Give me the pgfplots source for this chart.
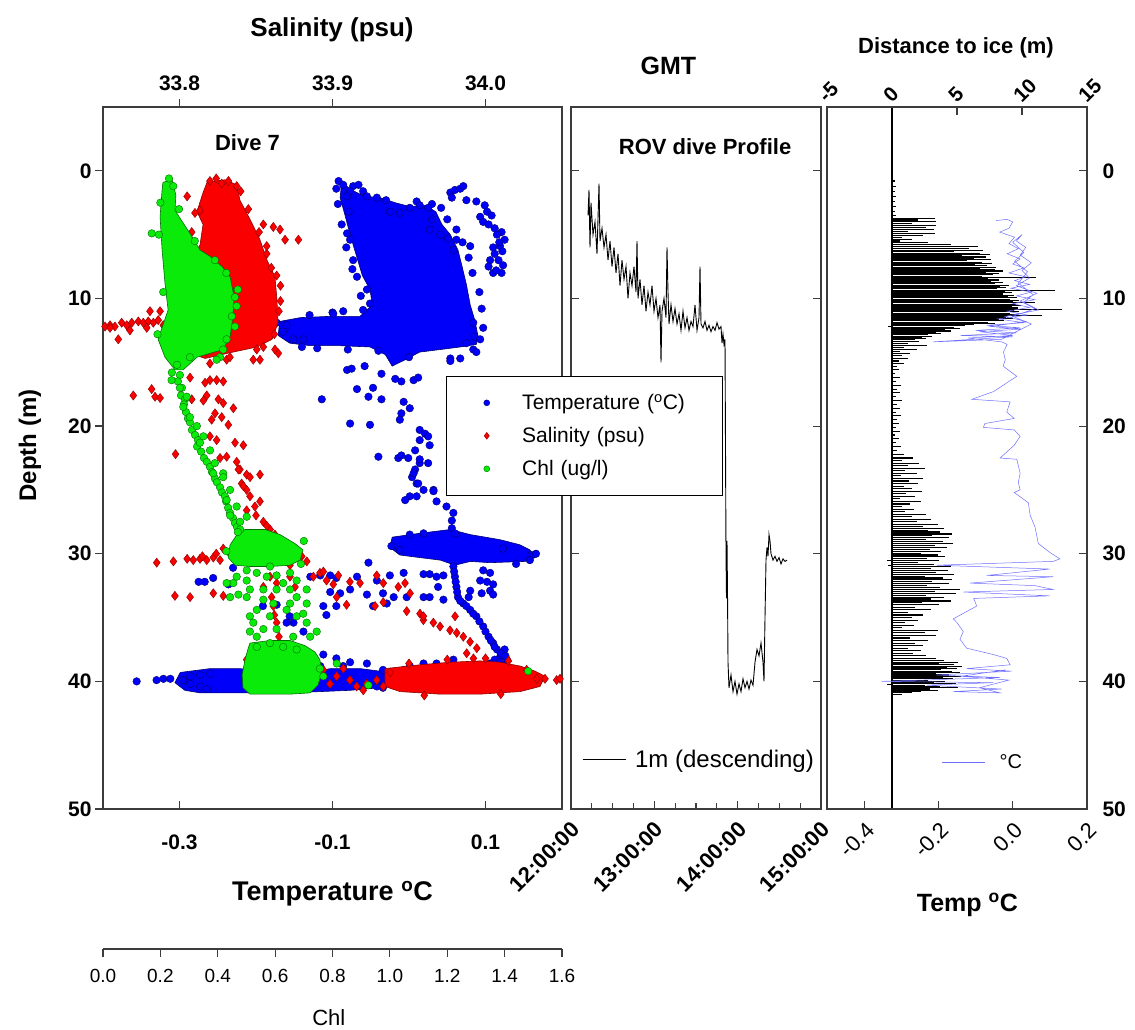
\documentclass[border=0pt]{standalone}
\usepackage{pgfplots}
\pgfplotsset{compat=1.18}
\usepackage{fontspec}
\setmainfont{Liberation Sans}
\definecolor{tblue}{RGB}{0,0,250}
\definecolor{tblueE}{RGB}{0,0,110}
\definecolor{sred}{RGB}{250,0,0}
\definecolor{sredE}{RGB}{140,0,0}
\definecolor{cgreen}{RGB}{10,235,10}
\definecolor{cgreenE}{RGB}{0,110,0}
\definecolor{lblue}{RGB}{110,110,255}
\definecolor{axgray}{RGB}{60,60,60}
\newcommand{\fs}[1]{\fontsize{#1}{#1}\selectfont}
\pgfplotsset{
  panel/.style={scale only axis, anchor=south west, height=702pt,
    ymin=-5, ymax=50, y dir=reverse, major tick length=8pt, minor tick length=6pt,
    clip mode=individual,
    axis line style={line width=1.2pt, axgray},
    every tick/.append style={line width=1.2pt, axgray}},
  bluept/.style={only marks, mark=*, mark size=3.8pt, mark options={fill=tblue, draw=tblueE, line width=0.4pt}},
  redpt/.style={only marks, mark=diamond*, mark size=4.6pt, mark options={fill=sred, draw=sredE, line width=0.4pt}},
  greenpt/.style={only marks, mark=*, mark size=3.8pt, mark options={fill=cgreen, draw=cgreenE, line width=0.4pt}},
}
\begin{document}
\begin{tikzpicture}[x=1pt,y=1pt]
\useasboundingbox (0,0) rectangle (1135,1029);

% ---------------- LEFT PANEL: temperature (bottom axis, box) -------------
\begin{axis}[panel, at={(103pt,220pt)}, width=459pt,
  xmin=-0.4, xmax=0.2, xtick={-0.3,-0.1,0.1}, xticklabels={-0.3,-0.1,0.1},
  xtick pos=left, ytick=\empty, tick align=inside,
  xticklabel style={font=\bfseries\fs{21}, yshift=-22pt},
  xlabel={Temperature \textsuperscript{o}C},
  xlabel style={font=\bfseries\fs{27}, at={(axis description cs:0.5,-0.12)}, anchor=center}]
\addplot[fill=tblue, draw=tblueE, line width=0.6pt] coordinates {
(-0.088,0.9) (-0.075,1.5) (-0.058,2.0) (-0.038,2.1) (-0.018,2.5) (0.001,2.8) (0.021,2.7) (0.035,3.2) (0.043,4.2) (0.054,5.0) (0.064,6.2) (0.069,7.4) (0.075,8.9) (0.080,10.5) (0.086,11.7) (0.090,12.9) (0.088,13.6) (0.067,13.8) (0.041,14.0) (0.014,14.2) (-0.005,14.8) (-0.022,15.3) (-0.031,14.4) (-0.051,13.8) (-0.090,13.7) (-0.129,13.7) (-0.156,13.5) (-0.171,12.9) (-0.169,11.8) (-0.142,11.5) (-0.103,11.4) (-0.064,11.4) (-0.048,10.5) (-0.051,9.3) (-0.061,8.2) (-0.069,6.6) (-0.077,5.0) (-0.084,3.4) (-0.090,2.1) (-0.088,0.9)};
\addplot[fill=tblue, draw=tblueE, line width=0.6pt] coordinates {
(-0.022,28.7) (0.014,28.4) (0.054,28.1) (0.080,28.5) (0.119,28.9) (0.145,29.3) (0.158,29.7) (0.165,30.3) (0.152,30.6) (0.106,30.7) (0.080,30.6) (0.060,30.9) (0.041,30.5) (0.014,30.3) (-0.012,30.1) (-0.025,29.5) (-0.022,28.7)};
\addplot[fill=tblue, draw=tblueE, line width=0.6pt] coordinates {
(-0.299,39.3) (-0.260,39.0) (-0.221,39.0) (-0.195,39.2) (-0.142,39.5) (-0.103,39.0) (-0.064,39.0) (-0.025,39.3) (-0.018,39.9) (-0.038,40.5) (-0.077,40.7) (-0.116,40.8) (-0.156,40.9) (-0.195,40.9) (-0.234,40.9) (-0.273,40.9) (-0.293,40.7) (-0.306,40.1) (-0.299,39.3)};
\addplot[bluept] coordinates {
(0.054,1.7) (0.060,1.5) (0.067,1.4) (0.071,1.2) (0.056,2.1) (0.075,2.3) (0.088,2.4) (0.099,2.7) (0.102,3.2) (0.093,3.6) (0.097,4.0) (0.104,4.2) (0.112,4.5) (0.121,4.8) (0.125,5.4) (0.119,5.9) (0.112,6.5) (0.106,7.0) (0.104,7.5) (0.110,8.0) (0.121,8.0) (0.123,7.4) (0.117,7.0) (0.062,5.4) (0.080,5.9) (0.058,6.2)
(0.108,3.5) (0.115,5.0) (0.110,6.0) (0.122,6.3) (0.114,7.8) (0.118,5.6)
(0.084,11.9) (0.086,13.0) (0.084,14.0) (0.088,14.2) (0.075,13.5)
(0.092,9.5) (0.095,10.8) (0.097,12.3) (0.093,13.2) (0.083,8.0) (0.078,6.8) (0.070,5.6) (0.062,4.6) (0.050,3.8) (0.042,2.9)
(-0.120,13.9) (-0.080,14.0) (-0.040,14.1) (0.000,14.6) (-0.100,11.1) (-0.130,11.3) (-0.060,10.9) (-0.140,13.8)
(-0.095,1.4) (-0.060,1.6) (-0.030,2.3) (0.010,2.4) (0.030,2.6) (-0.093,2.6) (-0.088,4.2) (-0.082,6.0) (-0.074,7.7) (-0.063,9.8)
(-0.173,11.9) (-0.160,12.1) (-0.151,13.2) (-0.138,13.2) (-0.180,12.4) (-0.165,12.6)
(0.054,14.7) (0.067,14.7) (0.054,14.9)
(-0.092,0.8) (-0.086,1.1) (-0.073,1.2) (-0.066,1.1) (-0.077,1.6) (-0.081,2.0)
(-0.079,3.2) (-0.081,4.9) (-0.077,5.4) (-0.073,7.0) (-0.068,8.3) (-0.055,9.3) (-0.051,10.4) (-0.099,11.2) (-0.086,11.0)
(-0.055,2.0) (-0.042,2.1) (-0.025,3.2) (-0.012,3.3) (0.001,2.9) (0.014,2.7) (0.025,2.9) (0.030,3.8) (0.027,4.6) (0.041,5.0) (0.051,5.3)
(-0.081,15.6) (-0.075,15.5) (-0.058,15.3) (-0.036,15.9) (-0.068,17.1) (-0.047,17.0) (-0.053,17.7) (-0.114,17.9) (-0.036,17.9) (-0.018,16.3) (-0.010,16.5) (0.006,16.4) (0.012,16.2) (-0.007,18.1) (0.001,18.6) (-0.010,19.0) (-0.012,19.5) (-0.077,19.8) (-0.051,19.9) (-0.040,22.4) (-0.014,22.5) (-0.001,22.5) (0.014,20.3) (0.021,20.6) (0.025,20.8) (0.014,21.1) (0.027,21.5) (0.008,21.9) (0.014,22.9) (0.008,23.4) (0.004,24.0) (0.010,24.5) (0.019,25.0) (0.032,25.0) (0.010,25.5)
(-0.010,22.3) (0.014,22.6) (0.025,22.9) (0.006,23.7) (0.012,24.5) (0.001,25.5) (-0.005,25.8) (0.032,25.1) (0.036,25.9) (0.049,26.3) (0.058,26.8) (0.056,27.4) (0.056,28.0) (0.060,28.4)
(-0.023,29.4) (-0.012,29.7) (0.001,28.5) (0.019,28.4) (0.123,29.6) (0.160,30.1) (0.158,30.5) (0.166,30.0) (0.140,30.8)
(0.058,31.0) (0.060,31.8) (0.062,32.6) (0.064,33.4) (0.071,33.9) (0.080,34.4) (0.088,34.9) (0.097,35.7) (0.104,36.5) (0.110,37.0) (0.115,37.5) (0.119,38.1) (0.125,37.5) (0.128,38.3) (0.112,38.3) (0.106,38.6) (0.123,38.7)
(0.059,31.4) (0.061,32.2) (0.063,33.0) (0.067,33.7) (0.075,34.1) (0.084,34.7) (0.092,35.3) (0.100,36.1) (0.107,36.8) (0.112,37.3) (0.120,37.8) (0.126,38.0) (0.118,38.5)
(0.093,32.1) (0.102,32.2) (0.110,32.4) (0.106,32.9) (0.095,33.1) (0.110,33.2) (0.080,32.9) (0.078,33.4) (0.097,31.3) (0.106,31.5)
(-0.275,32.2) (-0.267,32.2) (-0.256,31.9) (-0.230,31.1) (-0.236,32.4) (-0.129,31.8) (-0.116,31.7) (-0.103,31.7) (-0.095,31.9) (-0.068,31.8) (-0.053,30.7) (-0.042,32.1) (-0.025,31.7) (-0.007,31.5) (0.019,31.6) (0.027,31.6) (0.036,31.8) (0.045,31.7) (-0.103,33.0) (-0.090,33.1) (-0.077,32.8) (-0.055,33.2) (-0.034,33.1) (-0.020,33.4) (-0.003,33.4) (0.019,33.4) (0.027,33.4) (0.038,32.6) (0.045,33.6) (-0.112,34.1) (-0.095,34.1) (-0.047,34.1) (-0.029,33.9) (-0.108,34.8) (-0.156,34.9) (-0.151,35.4) (-0.138,36.1) (-0.160,35.4) (-0.173,34.0) (-0.191,34.1) (-0.156,38.1) (-0.112,37.9) (-0.095,38.2) (-0.077,38.5) (-0.055,38.6) (0.019,38.6) (0.036,38.6) (0.058,38.3)
(-0.356,40.0) (-0.330,39.9) (-0.321,39.8) (-0.312,39.8) (-0.295,39.9) (-0.286,40.2) (-0.273,40.4) (-0.264,40.6) (-0.286,39.6) (-0.273,39.5) (-0.260,39.4) (-0.116,38.8) (-0.086,38.8) (-0.034,39.1) (-0.042,40.4) (-0.034,40.5) (-0.007,39.1) (0.001,38.8)};
\node at (rel axis cs:0.308,0.949) {\bfseries\fs{22} Dive 7};
\end{axis}

% ---------------- LEFT PANEL: salinity (top axis) -------------
\begin{axis}[panel, at={(103pt,220pt)}, width=459pt,
  xmin=33.75, xmax=34.05, hide y axis, x axis line style={draw=none},
  xtick pos=right, xticklabel pos=right,
  xtick={33.8,33.9,34.0}, xticklabels={33.8,33.9,34.0}, tick align=outside,
  xticklabel style={font=\bfseries\fs{21}, yshift=5pt},
  xlabel={Salinity (psu)},
  xlabel style={font=\bfseries\fs{26}, at={(axis description cs:0.499,1.11)}, anchor=center}]
\addplot[fill=sred, draw=sredE, line width=0.6pt] coordinates {
(33.8180,0.9) (33.8297,0.7) (33.8376,1.1) (33.8395,2.3) (33.8461,3.8) (33.8526,5.4) (33.8572,7.0) (33.8624,8.3) (33.8637,10.1) (33.8644,11.9) (33.8605,13.2) (33.8507,13.8) (33.8350,14.2) (33.8167,14.7) (33.8003,14.0) (33.7925,12.9) (33.7938,10.1) (33.8036,7.8) (33.8134,5.8) (33.8154,4.2) (33.8114,3.2) (33.8154,1.7) (33.8180,0.9)};
\addplot[fill=sred, draw=sredE, line width=0.6pt] coordinates {
(33.9343,39.0) (33.9572,38.7) (33.9768,38.5) (33.9964,38.4) (34.0095,38.5) (34.0226,38.8) (34.0324,39.2) (34.0389,39.6) (34.0356,40.4) (34.0226,40.8) (33.9964,41.0) (33.9703,41.0) (33.9441,40.8) (33.9343,40.4) (33.9343,39.0)};
\addplot[redpt] coordinates {
(33.7513,12.2) (33.7546,12.1) (33.7578,12.2) (33.7622,11.9) (33.7655,12.1) (33.7688,11.9) (33.7731,11.8) (33.7763,11.9) (33.7796,11.8) (33.7829,11.9) (33.7861,11.7) (33.7894,12.1) (33.7600,13.2) (33.7807,11.0) (33.7873,11.0) (33.7546,12.3) (33.7676,12.5) (33.7786,12.3)
(33.866,9.0) (33.865,11.0) (33.862,12.8) (33.857,6.5) (33.852,4.8) (33.845,3.0) (33.840,1.6) (33.805,2.0) (33.808,4.8) (33.866,10.2) (33.860,7.6) (33.824,0.6) (33.832,0.8)
(33.8374,1.2) (33.8548,4.2) (33.8613,4.4) (33.8657,4.6) (33.8690,5.4) (33.8777,5.4) (33.8570,5.9) (33.8635,8.2) (33.8276,1.0) (33.8199,0.8) (33.8134,3.1) (33.8101,3.3)
(33.8505,14.0) (33.8548,13.8) (33.8624,14.0) (33.8646,14.3) (33.8482,14.8) (33.8526,14.8) (33.8178,14.2) (33.8199,15.1) (33.8308,14.8) (33.8330,14.6)
(33.7698,17.6) (33.7818,17.1) (33.7840,17.7) (33.7873,17.8) (33.8069,16.2) (33.8167,16.6) (33.8199,16.4) (33.8243,16.4) (33.8286,16.5) (33.8178,17.6) (33.8080,17.9) (33.8156,18.0) (33.8254,17.9) (33.8286,18.2) (33.8232,19.0) (33.8276,19.3) (33.8210,19.5) (33.8352,18.6) (33.8319,19.9) (33.8199,20.8) (33.8243,21.1) (33.8363,21.3) (33.8417,21.5) (33.7974,22.2) (33.8265,22.5) (33.8308,22.4) (33.8374,22.8) (33.8395,23.4) (33.8439,23.8) (33.8526,23.8) (33.8406,24.5) (33.8439,25.0) (33.8461,25.5) (33.8385,23.4) (33.8461,24.0) (33.8417,24.7) (33.8493,26.3) (33.8526,25.9) (33.8548,27.5) (33.8592,28.1) (33.8624,28.5) (33.8439,26.6) (33.8500,27.0) (33.8570,27.8)
(33.7851,30.7) (33.7960,30.6) (33.8090,30.5) (33.8134,30.4) (33.8178,30.5) (33.8221,30.3) (33.8265,30.5) (33.8286,29.6) (33.8330,30.0) (33.8635,29.2) (33.8701,29.3) (33.8766,29.7) (33.8799,30.2) (33.8832,30.6) (33.8722,30.9) (33.8150,30.2) (33.8050,30.4) (33.8240,30.0) (33.8600,29.8) (33.8680,30.0)
(33.7970,33.3) (33.8069,33.4) (33.8221,33.1) (33.8286,33.3)
(33.8592,31.8) (33.8635,32.3) (33.8602,33.4) (33.8613,34.1) (33.8635,35.4) (33.8657,37.3) (33.8722,31.8) (33.8755,32.6) (33.8548,32.6) (33.8439,38.3) (33.8482,38.4) (33.8548,38.3) (33.8620,34.8) (33.8650,36.5)
(33.8875,31.8) (33.8918,31.5) (33.8940,31.4) (33.9038,31.7) (33.9005,32.4) (33.9114,32.2) (33.9180,32.3) (33.9289,31.7) (33.9332,32.3) (33.9430,32.6) (33.9474,32.3) (33.9507,33.1) (33.9332,33.8) (33.9278,34.1) (33.9485,34.5) (33.9572,34.7) (33.9594,35.2) (33.9659,35.4) (33.9703,35.7) (33.9768,36.0) (33.9812,36.2) (33.9855,36.5) (33.9899,36.9) (33.9943,37.4) (33.9877,37.8) (33.9921,38.2) (33.9801,34.9) (33.9594,34.9) (33.9027,33.4) (33.9092,34.0) (33.8961,32.1)
(34.0335,39.8) (34.0389,39.8) (34.0465,39.9) (34.0487,39.8) (34.0269,39.1) (33.950,38.6) (33.975,38.3) (34.000,38.2) (34.015,38.4) (33.960,41.1) (34.010,41.0)
(33.8832,40.2) (33.8897,39.9) (33.8984,40.2) (33.9027,39.6) (33.9114,39.9) (33.9158,40.4) (33.9223,40.2) (33.9289,39.9) (33.9332,40.4) (33.9201,40.7) (33.8940,39.1) (33.9071,39.0) (33.9376,39.3) (33.8788,40.2) (33.8853,39.9)};
\end{axis}

% ---------------- LEFT PANEL: chl data + depth ticks -------------
\begin{axis}[panel, at={(103pt,220pt)}, width=459pt,
  xmin=0, xmax=1.6, hide x axis, y axis line style={draw=none},
  ytick pos=left, ytick={0,10,20,30,40,50}, yticklabels={0,10,20,30,40,50},
  tick align=outside, yticklabel style={font=\bfseries\fs{21}},
  ylabel={Depth (m)},
  ylabel style={font=\bfseries\fs{24}, at={(axis description cs:-0.159,0.518)}, anchor=center}]
\addplot[fill=cgreen, draw=cgreenE, line width=0.6pt] coordinates {
(0.209,0.9) (0.241,0.7) (0.254,1.9) (0.251,3.1) (0.303,4.9) (0.338,6.2) (0.373,6.7) (0.415,7.5) (0.443,8.3) (0.457,9.9) (0.453,11.4) (0.443,13.0) (0.418,14.0) (0.328,14.6) (0.279,15.6) (0.251,15.6) (0.216,14.6) (0.192,13.2) (0.227,10.9) (0.216,8.8) (0.206,6.2) (0.199,3.6) (0.206,1.5) (0.209,0.9)};
\addplot[fill=cgreen, draw=cgreenE, line width=0.6pt] coordinates {
(0.495,28.1) (0.565,28.1) (0.617,28.5) (0.669,29.2) (0.697,29.7) (0.687,30.5) (0.652,30.9) (0.582,31.0) (0.512,31.0) (0.460,30.9) (0.436,30.3) (0.443,29.3) (0.467,28.5) (0.495,28.1)};
\addplot[fill=cgreen, draw=cgreenE, line width=0.6pt] coordinates {
(0.512,37.0) (0.582,36.8) (0.652,36.8) (0.704,37.2) (0.739,37.7) (0.756,38.3) (0.763,39.3) (0.749,40.3) (0.722,40.9) (0.652,41.0) (0.582,41.0) (0.512,41.0) (0.488,40.5) (0.485,39.5) (0.495,38.3) (0.505,37.5) (0.512,37.0)};
\addplot[greenpt] coordinates {
(0.460,9.9) (0.466,10.6) (0.449,11.4) (0.431,13.2) (0.419,14.0) (0.408,14.6) (0.396,14.8) (0.303,14.6) (0.170,4.9)
(0.470,9.3) (0.460,12.2) (0.240,15.8) (0.190,12.8) (0.210,9.5) (0.195,5.0) (0.200,2.5) (0.245,1.2) (0.265,3.0) (0.320,5.5) (0.390,7.0) (0.430,8.0) (0.230,0.6)
(0.258,15.2) (0.268,16.0) (0.261,16.5) (0.275,17.0) (0.272,17.6) (0.286,17.9) (0.282,18.3) (0.289,18.9) (0.296,19.4) (0.303,19.7) (0.310,20.3) (0.321,20.7) (0.331,21.1) (0.328,21.6) (0.342,22.0) (0.352,22.5) (0.362,22.8) (0.373,23.2) (0.380,23.6) (0.390,24.1) (0.397,24.4) (0.408,24.8) (0.415,25.2) (0.425,25.5) (0.429,25.9) (0.436,26.4) (0.443,26.8) (0.453,27.2) (0.460,27.6) (0.467,27.9) (0.478,28.1)
(0.239,16.4) (0.268,17.0) (0.292,17.7) (0.280,18.5) (0.303,19.3) (0.327,20.0) (0.350,20.8) (0.338,21.3) (0.373,21.9) (0.390,22.9) (0.419,23.7) (0.443,25.0) (0.384,23.7) (0.419,24.0) (0.431,25.8) (0.466,26.3) (0.443,27.0) (0.478,27.5) (0.501,27.1)
(0.700,29.0) (0.690,30.8) (0.430,29.8) (0.470,28.3)
(0.466,31.8) (0.454,32.3) (0.501,32.1) (0.536,31.5) (0.571,31.8) (0.605,31.7) (0.652,31.5) (0.675,32.1) (0.710,32.8) (0.652,32.8) (0.605,32.8) (0.559,32.8) (0.512,32.8) (0.472,33.2) (0.501,33.4) (0.675,33.4) (0.710,33.9) (0.652,33.9) (0.594,33.9) (0.536,34.4) (0.512,34.9) (0.524,35.4) (0.512,36.1) (0.536,36.5) (0.536,37.3) (0.582,34.9) (0.605,35.9) (0.675,34.9) (0.710,35.4) (0.745,36.1) (0.722,36.5) (0.663,36.5) (0.640,34.4) (0.698,34.7) (0.559,35.9) (0.582,37.0) (0.628,37.3) (0.675,37.5) (0.431,32.3) (0.443,33.4) (0.559,33.6) (0.628,32.3) (0.582,31.0) (0.501,31.3)
(0.756,39.0) (0.768,39.6) (0.815,38.6) (0.925,40.3) (1.482,39.2)};
\end{axis}

% ---------------- Chl scale axis -------------
\begin{axis}[scale only axis, anchor=south west, at={(103pt,80pt)}, width=459pt, height=100pt,
  xmin=0, xmax=1.6, ymin=0, ymax=1, hide y axis, axis x line=bottom,
  x axis line style={-, line width=1.2pt, axgray},
  xtick={0,0.2,0.4,0.6,0.8,1.0,1.2,1.4,1.6}, xticklabels={0.0,0.2,0.4,0.6,0.8,1.0,1.2,1.4,1.6},
  tick align=outside, major tick length=8pt, every tick/.append style={line width=1.2pt, axgray},
  xticklabel style={font=\fs{19}, yshift=-9pt},
  xlabel={Chl}, xlabel style={font=\fs{22}, at={(axis description cs:0.492,-0.69)}, anchor=center}]
\end{axis}

% ---------------- MIDDLE PANEL -------------
\begin{axis}[panel, at={(571pt,220pt)}, width=250pt, xmin=12, xmax=15,
  xtick={12,13,14,15}, xticklabels={12:00:00,13:00:00,14:00:00,15:00:00},
  minor xtick={12.25,12.5,12.75,13.25,13.5,13.75,14.25,14.5,14.75},
  xtick pos=left, ytick={0,10,20,30,40,50}, ytick pos=both, yticklabels={}, tick align=inside,
  xticklabel style={font=\bfseries\fs{22}, rotate=45, anchor=north east, inner sep=2pt, yshift=-5pt, xshift=-6pt},
  legend style={at={(0.044,0.07)}, anchor=west, draw=none, fill=none, font=\fs{24}, inner sep=0pt,
    nodes={inner xsep=9pt}},
  legend image code/.code={\draw (0pt,0pt) -- (43pt,0pt);}]
\addplot[black, line width=0.9pt] coordinates {
(12.204,3.5) (12.216,1.5) (12.228,6) (12.240,2.5) (12.264,5) (12.288,4) (12.312,6.5) (12.336,1.0) (12.348,5.5) (12.372,4.5) (12.396,6) (12.420,5) (12.444,7) (12.468,5.5) (12.492,7.5) (12.516,6) (12.540,8) (12.564,6.5) (12.588,9) (12.612,7) (12.636,8.5) (12.660,7.5) (12.684,10) (12.708,8) (12.732,9) (12.756,7.5) (12.780,9.5) (12.792,5.5) (12.804,10) (12.828,8.5) (12.852,10.5) (12.876,9) (12.900,11) (12.924,9.5) (12.948,10.5) (12.972,9) (12.996,11) (13.020,10) (13.044,11.5) (13.068,10.5) (13.080,15) (13.092,11) (13.116,10) (13.140,11.5) (13.152,6) (13.164,9.5) (13.176,12) (13.200,10.5) (13.224,11.8) (13.248,10.8) (13.272,12) (13.296,11.2) (13.320,12.5) (13.344,11) (13.368,12.3) (13.392,11.5) (13.416,12.5) (13.440,11.8) (13.464,12.2) (13.488,10.5) (13.512,12.5) (13.536,11.5) (13.548,7.5) (13.560,12) (13.584,12.3) (13.608,11.8) (13.632,12.5) (13.656,12.1) (13.680,12.6) (13.704,12.2) (13.728,12.5) (13.752,11.9) (13.776,12.4) (13.800,12.2) (13.812,13.5) (13.824,12.8) (13.836,13.6) (13.848,13.2) (13.860,30) (13.866,33.5) (13.872,29) (13.878,33) (13.884,38.5) (13.896,40.5) (13.920,39.5) (13.944,40.8) (13.968,40) (13.992,41) (14.016,40.2) (14.040,40.8) (14.064,39.8) (14.088,40.5) (14.112,40) (14.136,40.6) (14.160,39.9) (14.184,40.3) (14.208,38.5) (14.232,37.5) (14.256,38) (14.280,37) (14.304,38.5) (14.316,40) (14.328,35) (14.340,30.5) (14.352,29.5) (14.364,30.2) (14.376,28.5) (14.388,29) (14.400,30) (14.424,30.5) (14.448,30.2) (14.472,30.6) (14.496,30.3) (14.520,30.8) (14.544,30.4) (14.568,30.6) (14.592,30.5)};
\addlegendentry{1m (descending)}
\node at (rel axis cs:0.524,0.944) {\bfseries\fs{22} ROV dive Profile};
\node at (rel axis cs:0.376,1.058) {\bfseries\fs{25} GMT};
\end{axis}

% ---------------- RIGHT PANEL: distance to ice (top axis) -------------
\begin{axis}[panel, at={(827pt,220pt)}, width=260pt, xmin=-5, xmax=15,
  hide y axis, x axis line style={draw=none}, xtick pos=right, xticklabel pos=right,
  xtick={-5,0,5,10,15}, xticklabels={-5,0,5,10,15}, tick align=inside,
  xticklabel style={font=\bfseries\fs{20.5}, rotate=45, anchor=south west, inner sep=2pt},
  xlabel={Distance to ice (m)},
  xlabel style={font=\bfseries\fs{22}, at={(axis description cs:0.496,1.084)}, anchor=center}]
\addplot[black, line width=1.1pt] coordinates {(0,-5) (0,50)};
\addplot[xcomb, black, line width=1.1pt] coordinates {
(0.2,0.8) (0.3,1.2) (0.2,1.6) (0.3,2.0) (0.2,2.4) (0.3,2.8) (0.2,3.2) (0.3,3.5)
(3.3,3.7) (2.0,3.85) (3.4,4.0) (1.5,4.15) (3.4,4.3) (2.6,4.45) (3.2,4.6) (1.2,4.75) (3.3,4.9) (2.4,5.05) (0.8,5.2) (1.5,5.35) (0.6,5.5) (2.8,5.65)
(4.5,5.8) (6.6,5.95) (5.9,6.1) (7.0,6.25) (4.8,6.35) (6.8,6.45) (7.5,6.55) (5.4,6.65) (7.2,6.75) (6.3,6.85) (7.6,6.95) (5.8,7.05) (6.9,7.15) (7.7,7.25) (6.4,7.35) (7.3,7.45) (8.0,7.55) (6.8,7.65) (7.9,7.75) (8.5,7.85) (7.2,7.95) (8.2,8.05)
(7.8,8.15) (6.9,8.25) (11.1,8.35) (7.4,8.45) (8.2,8.55) (7.6,8.65) (8.5,8.75) (7.9,8.85) (9.0,8.95) (8.3,9.05) (8.8,9.15) (8.1,9.25) (12.5,9.35) (8.7,9.45) (9.2,9.55) (8.5,9.65) (9.4,9.75) (8.9,9.85) (9.6,9.95) (9.1,10.05) (9.8,10.15) (9.3,10.25) (11.0,10.35) (9.5,10.45) (9.9,10.55) (9.2,10.65) (9.7,10.75) (13.1,10.85) (9.4,10.95) (9.8,11.05) (9.1,11.15) (9.6,11.25) (11.5,11.35) (8.8,11.45) (9.3,11.55) (8.2,11.65) (8.6,11.75) (7.4,11.85) (7.9,11.95) (6.3,12.05) (5.6,12.15) (4.8,12.25) (5.2,12.35) (4.1,12.45) (4.5,12.55) (3.4,12.65) (3.8,12.75) (2.8,12.85) (3.1,12.95) (2.3,13.05) (2.6,13.15) (1.8,13.25)
(-0.3,12.2) (2.1,13.4) (1.2,13.55) (2.7,13.7) (0.9,13.85) (1.9,14.0) (0.6,14.15) (1.4,14.3) (0.8,14.5) (1.2,14.7) (0.5,14.9) (0.9,15.1) (0.4,15.3)
(0.5,15.6) (0.2,15.9) (0.6,16.2) (0.3,16.5) (0.7,16.8) (0.4,17.1) (0.6,17.4) (0.3,17.7) (0.8,18.0) (0.4,18.3) (0.6,18.6) (0.3,18.9) (0.7,19.2) (0.4,19.5) (0.5,19.8) (0.3,20.1) (0.6,20.4) (0.2,20.7) (0.5,21.0) (0.3,21.3) (0.7,21.6) (0.4,21.9) (0.9,22.2)
(1.6,22.5) (0.8,22.7) (2.1,22.9) (1.2,23.1) (2.5,23.3) (1.0,23.5) (1.9,23.7) (0.7,23.9) (2.4,24.1) (1.3,24.3) (2.0,24.5) (0.9,24.7) (1.5,24.9) (2.3,25.1) (1.1,25.3) (1.8,25.5) (0.6,25.7) (2.2,25.9) (1.4,26.1) (0.8,26.3) (1.7,26.5) (1.0,26.7) (2.6,26.9) (1.5,27.1) (3.0,27.3) (1.9,27.5)
(3.5,27.7) (2.4,27.85) (4.0,28.0) (2.8,28.15) (3.7,28.3) (4.6,28.45) (3.1,28.6) (4.4,28.75) (2.6,28.9) (3.9,29.05) (4.7,29.2) (3.3,29.35) (4.2,29.5) (2.9,29.65) (3.8,29.8) (2.2,29.95) (3.5,30.1) (4.1,30.25) (2.7,30.4) (-0.4,30.5) (3.6,30.55) (2.0,30.7) (3.2,30.85) (-0.3,30.9) (4.5,31.0) (3.0,31.15) (4.3,31.3) (3.4,31.45) (4.8,31.6) (2.5,31.75) (3.9,31.9) (4.6,32.05) (3.1,32.2) (4.4,32.35) (2.7,32.5) (3.7,32.65) (5.2,32.8) (3.3,32.95) (4.9,33.1) (2.6,33.25) (4.0,33.4) (3.0,33.55) (4.5,33.7) (2.3,33.85) (3.6,34.0)
(1.8,34.2) (3.0,34.4) (1.2,34.6) (2.4,34.8) (1.5,35.0) (2.0,35.2) (1.0,35.4) (1.7,35.6) (0.8,35.8) (3.5,36.0) (2.5,36.2) (3.4,36.4) (1.4,36.6) (2.8,36.8) (1.8,37.0) (2.4,37.2) (1.2,37.4) (2.2,37.6) (1.6,37.8) (2.6,38.0) (3.4,38.2)
(4.0,38.35) (5.1,38.5) (3.6,38.6) (4.8,38.7) (5.4,38.8) (4.2,38.9) (5.0,39.0) (3.8,39.1) (4.6,39.2) (5.2,39.3) (3.4,39.4) (4.4,39.5) (5.3,39.6) (3.9,39.7) (4.7,39.8) (2.8,39.9) (4.1,40.0) (3.2,40.1) (4.9,40.2) (-0.4,40.25) (2.5,40.3) (3.7,40.4) (5.1,40.5) (2.9,40.6) (3.5,40.7) (2.2,40.8) (1.5,40.9) (0.8,41.0)};
\end{axis}

% ---------------- RIGHT PANEL: temperature (bottom axis, box) -------------
\begin{axis}[panel, at={(827pt,220pt)}, width=260pt, xmin=-0.5, xmax=0.2,
  xtick={-0.4,-0.2,0,0.2}, xticklabels={-0.4,-0.2,0.0,0.2}, xtick pos=left,
  ytick={0,10,20,30,40,50}, yticklabels={0,10,20,30,40,50}, ytick pos=right, yticklabel pos=right,
  tick align=inside,
  xticklabel style={font=\fs{22}, rotate=45, anchor=north east, inner sep=2pt, yshift=-7pt, xshift=-6pt},
  yticklabel style={font=\bfseries\fs{21}, xshift=12pt},
  xlabel={Temp \textsuperscript{o}C},
  xlabel style={font=\bfseries\fs{25}, at={(axis description cs:0.54,-0.137)}, anchor=center},
  legend style={at={(0.442,0.067)}, anchor=west, draw=none, fill=none, font=\fs{20}, inner sep=0pt,
    nodes={inner xsep=14pt}},
  legend image code/.code={\draw (0pt,0pt) -- (43pt,0pt);}]
\addplot[lblue, line width=0.5pt] coordinates {
(-0.045,3.9) (-0.015,3.8) (0.000,4.0) (-0.010,4.5) (-0.035,4.8) (0.005,5.2) (-0.010,5.7) (0.015,6.1) (-0.015,6.5) (0.020,6.9) (0.000,7.3) (0.030,7.6) (-0.010,8.0) (0.035,8.3) (0.005,8.6) (0.045,8.9) (-0.005,9.2) (0.050,9.5) (0.010,9.8) (0.060,10.1) (0.000,10.4) (0.045,10.7) (-0.015,11.0) (0.040,11.3) (-0.040,11.6) (0.030,11.9) (-0.070,12.1) (0.020,12.3) (-0.100,12.5) (0.010,12.7) (-0.140,12.9) (0.000,13.0) (-0.214,13.4) (-0.030,13.2)
(0.050,12.0) (0.000,11.4) (0.060,10.8) (0.020,10.2) (0.065,9.6) (0.010,9.0) (0.045,8.4) (0.025,7.8) (0.050,7.2) (0.020,6.6) (0.035,6.0) (0.010,5.5) (0.025,5.0)
(0.000,5.6) (0.030,6.4) (0.005,7.1) (0.040,7.9) (0.015,8.8) (0.055,9.7) (0.030,10.3) (0.070,10.9) (-0.020,11.4) (0.035,11.8) (-0.060,12.2) (0.025,12.4) (-0.090,12.6) (0.000,12.9) (-0.120,13.1) (-0.030,13.4)
(-0.015,13.6) (-0.025,14.2) (-0.020,14.8) (-0.026,15.3) (0.011,16.1) (-0.052,17.3) (-0.110,17.9) (-0.007,18.1) (-0.016,18.9) (0.004,19.4) (-0.075,19.8) (-0.079,20.1) (0.004,20.3) (0.020,20.8) (0.004,21.5) (-0.034,22.5) (0.011,22.6) (0.020,23.7) (0.015,24.4) (0.020,25.0) (0.004,25.2) (0.042,26.0) (0.047,27.0) (0.060,27.9) (0.069,29.2) (0.100,29.9) (0.127,30.4) (0.109,30.6) (-0.205,30.9) (0.100,31.2) (-0.070,31.7) (0.109,31.8) (-0.115,32.3) (0.060,32.5) (0.109,32.8) (-0.133,33.0) (0.100,33.3) (-0.105,33.5) (-0.097,34.1) (-0.160,35.1) (-0.150,35.4) (-0.133,36.1) (-0.142,36.7) (-0.124,37.4) (-0.052,37.9) (-0.016,38.2) (-0.007,38.7) (-0.124,39.0) (-0.003,39.2) (-0.070,39.3) (-0.205,39.5) (-0.034,39.7) (-0.353,40.0) (-0.052,40.1) (-0.232,40.3) (-0.030,40.6) (-0.160,40.8) (-0.034,40.9) (-0.090,40.5) (-0.010,39.9) (-0.140,39.6) (-0.020,39.1)};
\addlegendentry{°C}
\end{axis}

% ---------------- LEGEND of the left panel (drawn last, on top) -------------
\begin{axis}[panel, at={(103pt,220pt)}, width=459pt, xmin=0, xmax=1,
  hide x axis, hide y axis,
  legend style={at={(0.747,0.617)}, anchor=north west, draw=black, line width=0.9pt, fill=white,
    inner xsep=0pt, inner ysep=10pt, font=\fs{21},
    nodes={text width=195pt, inner xsep=5pt, inner ysep=0pt, minimum height=33pt}},
  legend cell align=left,
  legend image code/.code={\path (-40pt,0pt) (30pt,0pt); \draw plot coordinates {(0pt,0pt)};}]
\addlegendimage{only marks, mark=*, mark size=3pt, mark options={fill=tblue, draw=tblueE, line width=0.4pt}}
\addlegendentry{Temperature (\textsuperscript{o}C)}
\addlegendimage{only marks, mark=diamond*, mark size=3.4pt, mark options={fill=sred, draw=sredE, line width=0.4pt}}
\addlegendentry{Salinity (psu)}
\addlegendimage{only marks, mark=*, mark size=3pt, mark options={fill=cgreen, draw=cgreenE, line width=0.4pt}}
\addlegendentry{Chl (ug/l)}
\end{axis}
\end{tikzpicture}
\end{document}
